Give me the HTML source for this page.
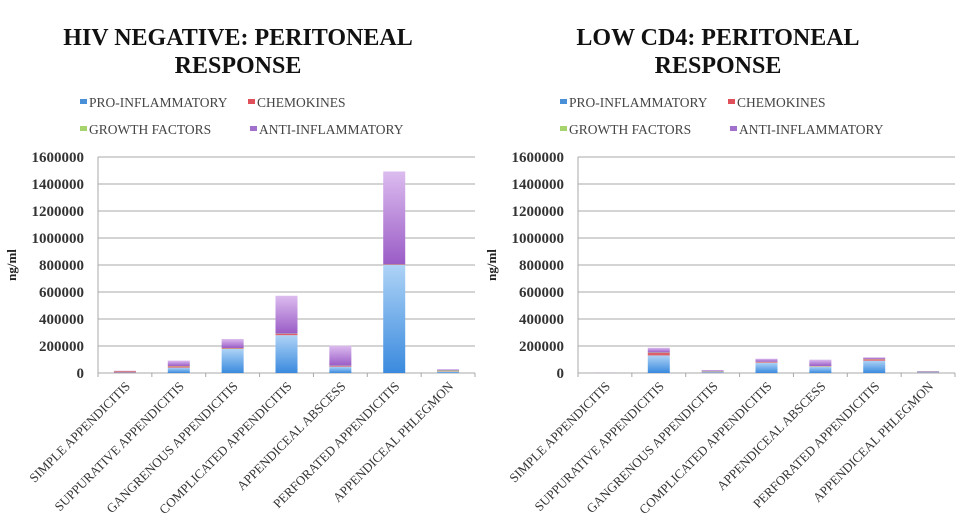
<!DOCTYPE html>
<html><head><meta charset="utf-8"><style>
body{margin:0;background:#fff;width:975px;height:530px;overflow:hidden}
svg{display:block;font-family:"Liberation Serif",serif}
</style></head><body>
<svg id="s" width="975" height="530">
<defs>
<linearGradient id="gPro" x1="0" y1="1" x2="0" y2="0"><stop offset="0" stop-color="#3a8ade"/><stop offset="1" stop-color="#aed3f6"/></linearGradient>
<linearGradient id="gAnti" x1="0" y1="1" x2="0" y2="0"><stop offset="0" stop-color="#9a5cc6"/><stop offset="1" stop-color="#dcbcef"/></linearGradient>
</defs>
</svg>
<script>
const categories=["SIMPLE APPENDICITIS","SUPPURATIVE APPENDICITIS","GANGRENOUS APPENDICITIS","COMPLICATED APPENDICITIS","APPENDICEAL ABSCESS","PERFORATED APPENDICITIS","APPENDICEAL PHLEGMON"];
const seriesNames=["PRO-INFLAMMATORY","CHEMOKINES","GROWTH FACTORS","ANTI-INFLAMMATORY"];
const yTicks=[0,200000,400000,600000,800000,1000000,1200000,1400000,1600000];
const hivProInflammatory=[4000,40000,178000,280000,47000,800000,10000];
const hivChemokines=[9000,10000,5000,10000,5000,3000,3000];
const hivGrowthFactors=[1000,2000,2000,2000,2000,2000,6000];
const hivAntiInflammatory=[3000,40000,67000,280000,148000,688000,9000];
const cd4ProInflammatory=[1000,130000,6000,76000,47000,91000,5000];
const cd4Chemokines=[500,20000,2000,5000,3000,10000,2000];
const cd4GrowthFactors=[500,2000,4000,2000,2000,2000,3000];
const cd4AntiInflammatory=[1000,35000,10000,23000,47000,13000,5000];

const NS="http://www.w3.org/2000/svg";
const svg=document.getElementById('s');
function mk(tag,attrs,parent,text){const e=document.createElementNS(NS,tag);for(const k in attrs)e.setAttribute(k,attrs[k]);if(text!==undefined)e.textContent=text;(parent||svg).appendChild(e);return e;}
const fills=["url(#gPro)","#e0606a","#a6d46c","url(#gAnti)"];
const legendFills=["#4a90d9","#e0505a","#a6d46c","#a070cc"];

function chart(ox,name,titleLines,series,legendX,titleX){
  const g=mk('g',{});
  
  
  const x0=ox, x1=ox+377, y0=373, yTop=157, vmax=1600000;
  const y=v=>y0-(v/vmax)*(y0-yTop);
  const cx=i=>x0+(i+0.5)*(x1-x0)/categories.length;
  titleLines.forEach((t,i)=>{
    const e=mk('text',{x:titleX,y:45+i*28,'text-anchor':'middle','font-size':'24','font-weight':'bold',fill:'#111'},g,t);
    
    
  });
  const lp=[[legendX,107],[legendX+168,107],[legendX,134],[legendX+170,134]];
  seriesNames.forEach((n,i)=>{
    const le=mk('g',{},g);
    
    
    mk('rect',{x:lp[i][0],y:lp[i][1]-8,width:7,height:5,fill:legendFills[i]},le);
    mk('text',{x:lp[i][0]+9,y:lp[i][1],'font-size':'13.5',fill:'#444'},le,n);
  });
  yTicks.forEach(v=>{
    const l=mk('line',{x1:x0,x2:x1,y1:y(v),y2:y(v),stroke:'#a8a8a8','stroke-width':1},g);
    
    
    const t=mk('text',{x:x0-14,y:y(v)+5,'text-anchor':'end','font-size':'15','font-weight':'bold',fill:'#333'},g,String(v));
    
    
  });
  mk('line',{x1:x0,x2:x0,y1:yTop,y2:y0,stroke:'#a8a8a8'},g);
  const yl=mk('text',{x:0,y:0,transform:`translate(${ox-82},265) rotate(-90)`,'text-anchor':'middle','font-size':'13','font-weight':'bold',fill:'#222'},g,'ng/ml');
  
  
  for(let i=0;i<=categories.length;i++){const xx=x0+i*(x1-x0)/categories.length;mk('line',{x1:xx,x2:xx,y1:y0,y2:y0+4,stroke:'#a8a8a8'},g);}
  categories.forEach((c,i)=>{
    let acc=0;
    series.forEach((arr,si)=>{
      const v=arr[i];
      const r=mk('rect',{x:cx(i)-11,y:y(acc+v),width:22,height:Math.max(0,y(acc)-y(acc+v)),fill:fills[si]},g);
      
      
      acc+=v;
    });
    const t=mk('text',{x:0,y:0,transform:`translate(${cx(i)+6},${y0+14}) rotate(-45)`,'text-anchor':'end','font-size':'13',fill:'#333'},g,c);
    
    
  });
}
chart(98,'hiv-negative-chart',["HIV NEGATIVE: PERITONEAL","RESPONSE"],[hivProInflammatory,hivChemokines,hivGrowthFactors,hivAntiInflammatory],80,238);
chart(578,'low-cd4-chart',["LOW CD4: PERITONEAL","RESPONSE"],[cd4ProInflammatory,cd4Chemokines,cd4GrowthFactors,cd4AntiInflammatory],560,718);
</script>
</body></html>
